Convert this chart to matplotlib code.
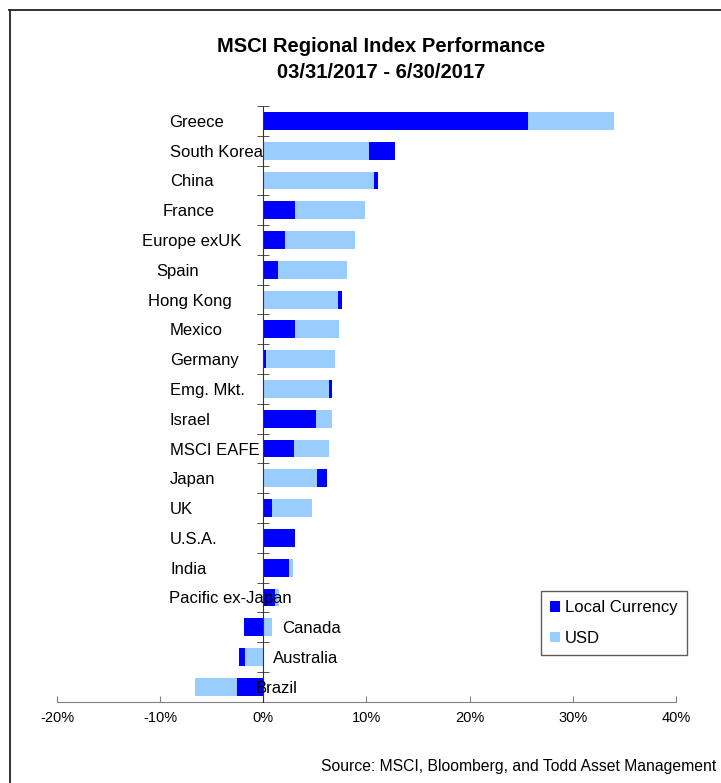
import matplotlib
matplotlib.use("Agg")
import matplotlib.pyplot as plt
from matplotlib.lines import Line2D
from matplotlib.patches import Patch
from matplotlib.ticker import FuncFormatter
from matplotlib import font_manager

plt.rcParams['font.family'] = ['Liberation Sans', 'DejaVu Sans']

categories = ["Greece", "South Korea", "China", "France", "Europe exUK", "Spain",
              "Hong Kong", "Mexico", "Germany", "Emg. Mkt.", "Israel", "MSCI EAFE",
              "Japan", "UK", "U.S.A.", "India", "Pacific ex-Japan", "Canada",
              "Australia", "Brazil"]
local_currency = [25.7, 12.8, 11.1, 3.1, 2.1, 1.4, 7.6, 3.1, 0.3, 6.7, 5.1, 2.95,
                  6.15, 0.85, 3.1, 2.45, 1.15, -1.9, -2.35, -2.6]
usd = [34.0, 10.2, 10.7, 9.9, 8.9, 8.1, 7.2, 7.3, 6.9, 6.4, 6.7, 6.4,
       5.25, 4.7, 3.1, 2.9, 1.5, 0.85, -1.8, -6.6]
# left edge of each category label, in axis (percent) units
label_x = [-9.14, -9.04, -9.04, -9.75, -11.75, -10.33, -11.17, -9.04, -9.04, -9.04,
           -9.14, -9.04, -9.04, -9.04, -9.04, -9.04, -9.1, 1.78, 0.97, -0.71]
xticks = [-20, -10, 0, 10, 20, 30, 40]

W, H = 721, 783
fig = plt.figure(figsize=(W / 100, H / 100), dpi=100)
ax = fig.add_axes([57 / W, 1 - 701.7 / H, (676 - 57) / W, (701.7 - 106) / H])

dark = '#0000FF'
light = '#99CCFF'
y = list(range(len(categories)))
b_loc = ax.barh(y, local_currency, height=0.6, color=dark, zorder=2)
b_usd = ax.barh(y, usd, height=0.6, color=light, zorder=2)
for i in range(len(categories)):
    if abs(local_currency[i]) <= abs(usd[i]):
        b_loc[i].set_zorder(3)
    else:
        b_usd[i].set_zorder(3)

ax.set_xlim(-20, 40)
ax.set_ylim(len(categories) - 0.5, -0.5)

for i, name in enumerate(categories):
    ax.text(label_x[i], i + 0.05, name, ha='left', va='center', fontsize=12,
            color='black', zorder=5)

ax.spines['top'].set_visible(False)
ax.spines['right'].set_visible(False)
ax.spines['left'].set_position(('data', 0))
ax.spines['left'].set_color('#333333')
ax.spines['left'].set_zorder(4)
ax.spines['bottom'].set_color('#808080')

ax.set_yticks([])
ax.set_yticks([i + 0.5 for i in range(-1, len(categories))], minor=True)
ax.tick_params(axis='y', which='minor', direction='inout', length=8, color='#333333')

ax.set_xticks(xticks)
ax.xaxis.set_major_formatter(FuncFormatter(lambda v, p: f"{int(v)}%"))
ax.tick_params(axis='x', which='major', direction='in', length=4, color='#808080',
               labelsize=10.5, pad=7)

handles = [Patch(facecolor=dark, edgecolor='none', label='Local Currency'),
           Patch(facecolor=light, edgecolor='none', label='USD')]
leg = ax.legend(handles=handles, loc='upper left',
                bbox_to_anchor=(541 / W, 1 - 591 / H), bbox_transform=fig.transFigure,
                fontsize=12, frameon=True, fancybox=False, handlelength=0.6,
                handleheight=0.6, handletextpad=0.3, labelspacing=0.95,
                borderpad=0.55, borderaxespad=0)
leg.get_frame().set_edgecolor('#333333')
leg.get_frame().set_linewidth(1.0)

fig.text(380.8 / W, 1 - 46 / H, "MSCI Regional Index Performance", ha='center',
         va='center', fontsize=14.5, fontweight='bold')
fig.text(380.8 / W, 1 - 72 / H, "03/31/2017 - 6/30/2017", ha='center',
         va='center', fontsize=14.5, fontweight='bold')

avail = {f.name for f in font_manager.fontManager.ttflist}
src_family = ['Liberation Sans Narrow'] if 'Liberation Sans Narrow' in avail else ['Liberation Sans']
src_size = 12.5 if 'Liberation Sans Narrow' in avail else 11.3
fig.text(716 / W, 1 - 767 / H, "Source: MSCI, Bloomberg, and Todd Asset Management",
         ha='right', va='center', fontsize=src_size, family=src_family)

fig.add_artist(Line2D([9 / W, 1], [1 - 9.5 / H, 1 - 9.5 / H], transform=fig.transFigure,
                      color='#222222', lw=1.3))
fig.add_artist(Line2D([9.5 / W, 9.5 / W], [0, 1 - 9.5 / H], transform=fig.transFigure,
                      color='#222222', lw=1.3))

fig.savefig('out.png', dpi=100)
